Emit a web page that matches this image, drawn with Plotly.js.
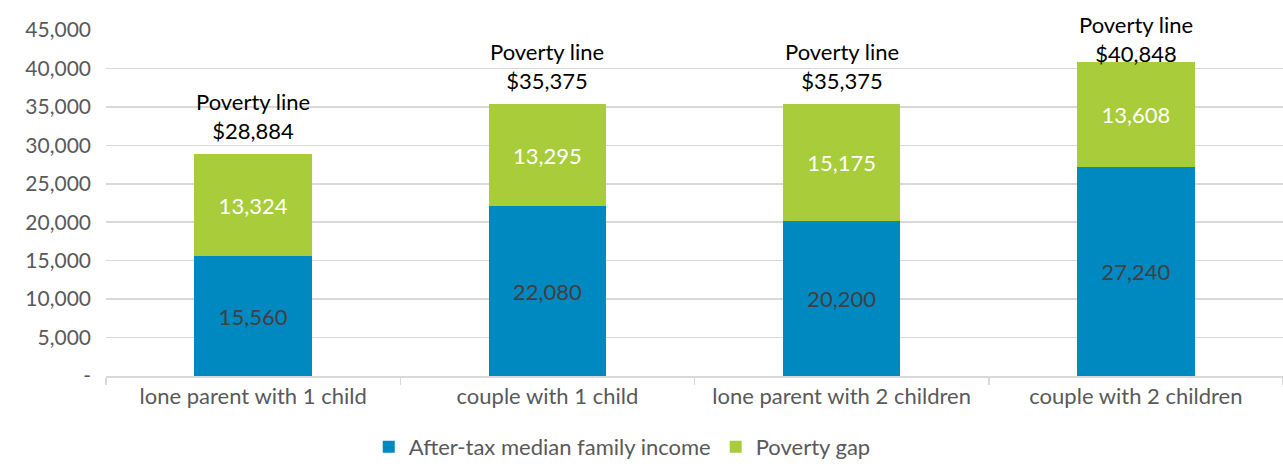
<!DOCTYPE html>
<html>
<head>
<meta charset="utf-8">
<script src="https://cdn.plot.ly/plotly-3.0.1.min.js"></script>
<style>html,body{margin:0;padding:0;background:#fff;}#chart{width:1283px;height:468px;}</style>
</head>
<body>
<div id="chart"></div>
<script>
const categories = ["lone parent with 1 child", "couple with 1 child", "lone parent with 2 children", "couple with 2 children"];
const incomeValues = [15560, 22080, 20200, 27240];
const gapValues = [13324, 13295, 15175, 13608];
const povertyLines = [28884, 35375, 35375, 40848];
const yTickVals = [0, 5000, 10000, 15000, 20000, 25000, 30000, 35000, 40000, 45000];
const yTickText = ["-", "5,000", "10,000", "15,000", "20,000", "25,000", "30,000", "35,000", "40,000", "45,000"];
const seriesNames = ["After-tax median family income", "Poverty gap"];

const FONT = "Lato, 'Open Sans', sans-serif";
const fmt = v => v.toLocaleString("en-US");

const traces = [
  {
    type: "bar", name: seriesNames[0], x: categories, y: incomeValues,
    marker: {color: "#0088c1"},
    text: incomeValues.map(fmt), textposition: "inside", insidetextanchor: "middle",
    textfont: {color: "#404040", size: 22, family: FONT},
    hoverinfo: "none"
  },
  {
    type: "bar", name: seriesNames[1], x: categories, y: gapValues,
    marker: {color: "#a8cc3a"},
    text: gapValues.map(fmt), textposition: "inside", insidetextanchor: "middle",
    textfont: {color: "#ffffff", size: 22, family: FONT},
    hoverinfo: "none"
  }
];

// the tallest label is pushed down to fit inside the chart, as in the original
const annotations = categories.map((c, i) => ({
  x: c, y: povertyLines[i], xref: "x", yref: "y",
  text: "Poverty line<br>$" + fmt(povertyLines[i]),
  showarrow: false, yanchor: "bottom", yshift: (i === categories.length - 1) ? -7 : 8,
  font: {family: FONT, size: 22, color: "#000000"}
}));

const layout = {
  width: 1283, height: 468,
  margin: {l: 106, r: 0, t: 30, b: 92},
  paper_bgcolor: "#ffffff", plot_bgcolor: "#ffffff",
  barmode: "stack", bargap: 0.6,
  font: {family: FONT, size: 22, color: "#595959"},
  showlegend: true,
  legend: {
    orientation: "h", xref: "container", yref: "container",
    x: 0.485, xanchor: "center", y: -0.01, yanchor: "bottom",
    font: {family: FONT, size: 22, color: "#595959"},
    traceorder: "normal"
  },
  xaxis: {
    type: "category", showgrid: false, showline: true, linecolor: "#d9d9d9", linewidth: 1.5,
    ticks: "outside", tickson: "boundaries", ticklen: 7, tickcolor: "#d9d9d9", tickwidth: 1.5,
    tickfont: {family: FONT, size: 22, color: "#595959"},
    fixedrange: true
  },
  yaxis: {
    range: [0, 45000], tickvals: yTickVals, ticktext: yTickText,
    showgrid: true, gridcolor: "#d9d9d9", gridwidth: 1.5, zeroline: false, showline: false,
    ticks: "", ticklabelstandoff: 14,
    tickfont: {family: FONT, size: 21, color: "#595959"},
    fixedrange: true
  },
  annotations: annotations
};

Plotly.newPlot("chart", traces, layout, {displayModeBar: false, staticPlot: true});
</script>
</body>
</html>
